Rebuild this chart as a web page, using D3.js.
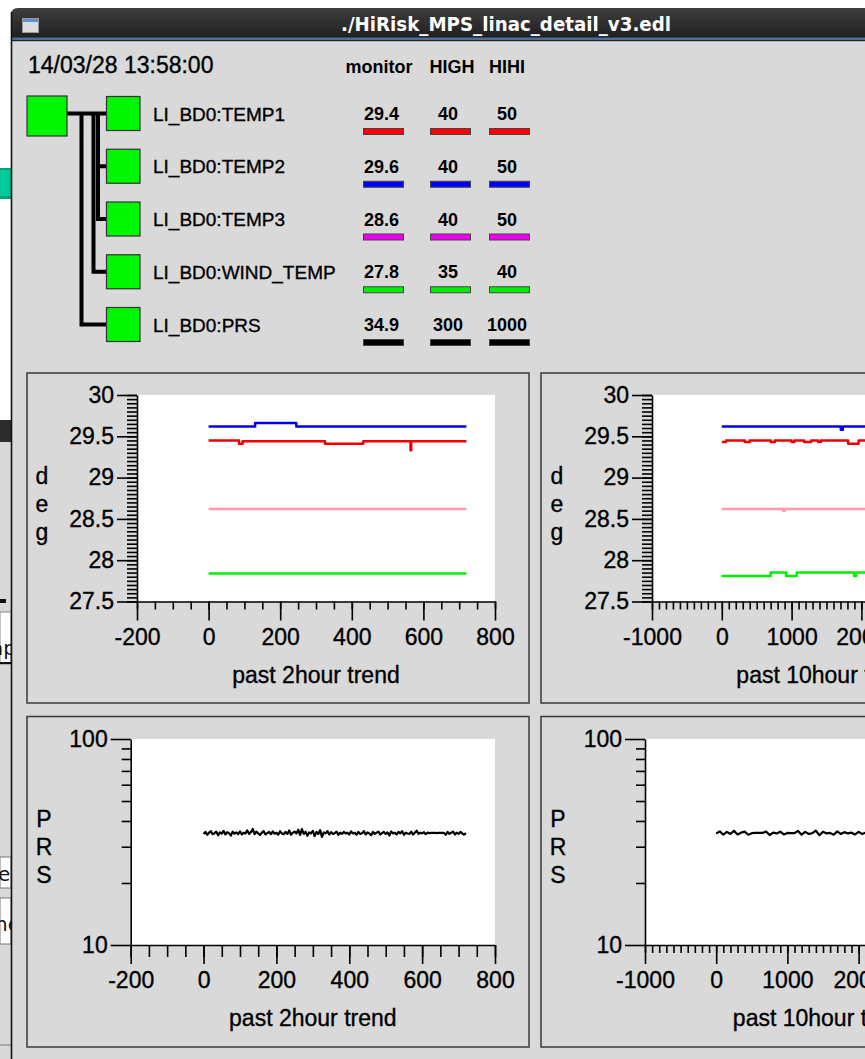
<!DOCTYPE html>
<html><head><meta charset="utf-8">
<script src="https://cdn.jsdelivr.net/npm/d3@7/dist/d3.min.js"></script>
<style>
html,body{margin:0;padding:0;background:#fff;overflow:hidden}
svg{display:block}
</style></head><body>
<svg id="chart" width="865" height="1059"></svg>
<script>
// ================= DATA =================
const windowTitle = "./HiRisk_MPS_linac_detail_v3.edl";
const timestamp = "14/03/28 13:58:00";
const columnHeaders = ["monitor", "HIGH", "HIHI"];
const channels = ["LI_BD0:TEMP1", "LI_BD0:TEMP2", "LI_BD0:TEMP3", "LI_BD0:WIND_TEMP", "LI_BD0:PRS"];
const monitorValues = ["29.4", "29.6", "28.6", "27.8", "34.9"];
const highLimits = ["40", "40", "40", "35", "300"];
const hihiLimits = ["50", "50", "50", "40", "1000"];
const channelColors = ["#ff0000", "#0000ff", "#ee00ee", "#00ee00", "#000000"];
const traceColors = ["#f00000", "#0000f0", "#ff9aaa", "#00f000"];
const unitLabels = ["deg", "PRS"];
const xTitles = ["past 2hour trend", "past 10hour trend"];

const tempTicks = [27.5, 28, 28.5, 29, 29.5, 30];
const prsTicks = [10, 100];
const prsMinorTicks = [20, 30, 40, 50, 60, 70, 80, 90];
const xTicks2h = [-200, 0, 200, 400, 600, 800];
const xTicks10h = [-1000, 0, 1000, 2000, 3000, 4000];

// temperature traces: [time, value] change points (step lines)
const temp1_2h = [[0,29.45],[85,29.41],[95,29.44],[325,29.41],[432,29.44],[564,29.33],[566,29.44],[720,29.44]];
const temp2_2h = [[0,29.62],[130,29.66],[245,29.62],[720,29.62]];
const temp3_2h = [[0,28.62],[720,28.62]];
const wind_2h  = [[0,27.84],[720,27.84]];

const temp1_10h = [[0,29.43],[60,29.45],[330,29.43],[400,29.45],[700,29.43],[760,29.45],[1000,29.43],[1040,29.45],[1180,29.43],[1280,29.45],[1380,29.43],[1420,29.45],[1810,29.41],[1960,29.45],[2100,29.44],[3600,29.44]];
const temp2_10h = [[0,29.62],[1705,29.58],[1735,29.62],[3600,29.62]];
const temp3_10h = [[0,28.62],[880,28.60],[900,28.62],[3600,28.62]];
const wind_10h  = [[0,27.81],[700,27.85],[920,27.81],[1073,27.85],[1895,27.81],[1925,27.85],[3600,27.85]];

// pressure samples (2h: every 5 units; 10h: every 50 units)
const prs2h = [
34.6,35.4,34.3,35.1,35.7,34.5,34.9,35.5,34.1,35.2,34.7,35.8,34.4,35.3,34.9,34.0,35.5,34.7,35.2,34.5,
35.6,34.4,35.1,34.8,36.0,34.6,35.3,36.6,34.5,35.5,34.8,34.2,35.1,35.7,34.4,34.9,35.4,34.5,35.6,34.7,
35.1,34.3,35.7,34.8,34.5,35.4,34.6,36.0,34.3,35.1,35.5,34.8,36.3,34.2,36.5,34.6,35.5,33.9,35.2,34.8,
35.8,33.8,35.4,34.6,36.1,33.5,35.2,34.8,35.7,34.4,35.3,34.6,34.9,35.5,34.3,35.1,34.6,35.4,34.8,35.1,
34.4,35.6,34.8,35.1,34.3,35.4,34.6,34.9,35.7,34.4,35.2,34.8,34.1,35.4,34.6,35.1,35.5,34.4,34.9,35.4,
34.6,35.2,34.0,35.6,34.8,35.1,34.4,35.4,34.8,35.7,34.3,35.1,34.8,34.6,35.5,34.4,35.1,35.9,34.6,35.1,
34.8,35.3,34.5,35.1,34.9,35.0,35.0,35.0,34.9,35.0,35.0,35.0,35.0,34.3,35.4,34.6,35.1,35.5,34.4,35.1,
34.6,35.4,34.8,34.3,35.0];
const prs10h = [
34.8,35.6,34.3,35.4,34.6,35.8,34.4,35.1,35.5,34.3,34.9,35.0,35.0,35.0,35.6,34.2,35.1,34.8,35.5,34.4,
35.0,34.9,34.9,35.8,34.3,35.4,34.6,34.9,35.9,34.1,35.5,34.8,35.0,34.3,35.6,34.6,35.3,34.8,35.1,34.4,
35.4,34.6,35.1,34.8,35.5,34.4,35.1,34.8,35.6,34.6,35.0,34.9,35.3,34.5,35.1,34.8,35.4,34.6,35.1,34.8,
35.3,34.6,35.1,34.8,35.4,34.5,35.1,34.8,35.3,34.6,35.0,34.9,35.0];

// ================= DRAWING =================
const svg = d3.select("#chart");
const FONT = "'Liberation Sans', Arial, Helvetica, sans-serif";
const BG = "#d9d9d9";
const ink = sel => sel.attr("stroke", "#000").attr("stroke-width", 0.35).attr("paint-order", "stroke");

svg.append("rect").attr("width", 865).attr("height", 1059).attr("fill", "#ffffff");

// ---- background window strip (left edge) ----
const defs = svg.append("defs");
defs.append("clipPath").attr("id", "stripClip").append("rect").attr("x", 0).attr("y", 0).attr("width", 11).attr("height", 1059);
const strip = svg.append("g").attr("clip-path", "url(#stripClip)");
strip.append("rect").attr("x", 0).attr("y", 168).attr("width", 11).attr("height", 31).attr("fill", "#00c99a");
strip.append("rect").attr("x", 0).attr("y", 168).attr("width", 11).attr("height", 2).attr("fill", "#00a27d");
strip.append("rect").attr("x", 0).attr("y", 196).attr("width", 11).attr("height", 3).attr("fill", "#00a27d");
strip.append("rect").attr("x", 0).attr("y", 420).attr("width", 11).attr("height", 22).attr("fill", "#2c2c2c");
strip.append("rect").attr("x", 0).attr("y", 442).attr("width", 11).attr("height", 617).attr("fill", "#d8d8d8");
strip.append("rect").attr("x", 0).attr("y", 599).attr("width", 6).attr("height", 4).attr("fill", "#111");
strip.append("rect").attr("x", 0).attr("y", 612).attr("width", 11).attr("height", 52).attr("fill", "#fff").attr("stroke", "#888");
strip.append("rect").attr("x", 0).attr("y", 662).attr("width", 11).attr("height", 2).attr("fill", "#111");
strip.append("text").attr("x", -9).attr("y", 655).text("ap").attr("font-family", "DejaVu Sans").attr("font-size", 20).attr("fill", "#111");
strip.append("rect").attr("x", 0).attr("y", 857).attr("width", 11).attr("height", 31).attr("fill", "#fff").attr("stroke", "#777");
strip.append("text").attr("x", -2).attr("y", 881).text("e").attr("font-family", "DejaVu Sans").attr("font-size", 20).attr("fill", "#111");
strip.append("rect").attr("x", 0).attr("y", 898).attr("width", 11).attr("height", 46).attr("fill", "#fff").attr("stroke", "#777");
strip.append("text").attr("x", -5).attr("y", 931).text("nc").attr("font-family", "DejaVu Sans").attr("font-size", 20).attr("fill", "#111");
strip.append("rect").attr("x", 0).attr("y", 1044).attr("width", 11).attr("height", 2).attr("fill", "#aaa");

// ---- main window frame ----
svg.append("rect").attr("x", 11).attr("y", 40).attr("width", 854).attr("height", 1019).attr("fill", BG);
const grad = defs.append("linearGradient").attr("id", "tb").attr("x1", 0).attr("y1", 0).attr("x2", 0).attr("y2", 1);
grad.append("stop").attr("offset", "0%").attr("stop-color", "#3e3e3e");
grad.append("stop").attr("offset", "100%").attr("stop-color", "#1d1d1d");
svg.append("path").attr("d", "M11,40 V15 Q11,8 18,8 H865 V40 Z").attr("fill", "url(#tb)");
svg.append("rect").attr("x", 11).attr("y", 37.5).attr("width", 854).attr("height", 2.5).attr("fill", "#4f6d96");
svg.append("rect").attr("x", 11).attr("y", 40).attr("width", 854).attr("height", 1.2).attr("fill", "#222");
svg.append("line").attr("x1", 11.5).attr("x2", 11.5).attr("y1", 12).attr("y2", 1059).attr("stroke", "#111").attr("stroke-width", 1.6);
// window icon
svg.append("rect").attr("x", 22.5).attr("y", 18.5).attr("width", 16).attr("height", 14).attr("fill", "#dcdcdc").attr("stroke", "#9a9a9a");
svg.append("rect").attr("x", 23).attr("y", 19).attr("width", 15).attr("height", 3).attr("fill", "#5b8fd6");
svg.append("text").attr("x", 506).attr("y", 30.5).attr("text-anchor", "middle")
  .attr("font-family", "'DejaVu Sans', sans-serif").attr("font-weight", "bold").attr("font-size", 20)
  .attr("textLength", 330).attr("lengthAdjust", "spacingAndGlyphs")
  .attr("fill", "#ffffff").text(windowTitle);

// ---- header / tree ----
svg.append("text").attr("x", 28).attr("y", 73).attr("font-family", FONT).attr("font-size", 23).attr("fill", "#000").text(timestamp).call(ink);

const colX = d3.scaleOrdinal().domain(columnHeaders).range([381.5, 448, 507]);
const headerX = d3.scaleOrdinal().domain(columnHeaders).range([379, 452, 507]);
svg.append("g").selectAll("text").data(columnHeaders).join("text")
  .attr("x", d => headerX(d)).attr("y", 73).attr("text-anchor", "middle")
  .attr("font-family", FONT).attr("font-weight", "bold").attr("font-size", 18).attr("fill", "#000").text(d => d);

const rowY = d3.scalePoint().domain(channels).range([113.5, 324.5]);

// tree connector lines
const tree = svg.append("g").attr("fill", "none").attr("stroke", "#000").attr("stroke-width", 4).attr("stroke-linejoin", "miter");
const r = c => rowY(channels[c]);
tree.append("path").attr("d", `M67,${r(0)} H107`);
tree.append("path").attr("d", `M81.5,${r(0)} V${r(4)} H107`);
tree.append("path").attr("d", `M93.5,${r(0)} V${r(3)} H107`);
tree.append("path").attr("d", `M98,${r(0)} V${r(2)} H107 M98,${r(1)} H107`);

svg.append("rect").attr("x", 27).attr("y", 96).attr("width", 40).attr("height", 40)
  .attr("fill", "#00f500").attr("stroke", "#333").attr("stroke-width", 1.2);
svg.append("g").selectAll("rect").data(channels).join("rect")
  .attr("x", 106.5).attr("y", d => rowY(d) - 17).attr("width", 33.5).attr("height", 34)
  .attr("fill", "#00f500").attr("stroke", "#333").attr("stroke-width", 1.2);

svg.append("g").selectAll("text").data(channels).join("text")
  .attr("x", 153).attr("y", d => rowY(d) + 7).attr("font-family", FONT).attr("font-size", 19)
  .attr("fill", "#000").text(d => d).call(ink);

const cols = [monitorValues, highLimits, hihiLimits];
columnHeaders.forEach((h, ci) => {
  const g = svg.append("g");
  g.selectAll("text").data(channels).join("text")
    .attr("x", colX(h)).attr("y", d => rowY(d) + 6.5).attr("text-anchor", "middle")
    .attr("font-family", FONT).attr("font-weight", "bold").attr("font-size", 18).attr("fill", "#000")
    .text((d, i) => cols[ci][i]);
  g.selectAll("rect").data(channels).join("rect")
    .attr("x", colX(h) - 19.5 + (ci === 0 ? 1.5 : 2)).attr("y", d => rowY(d) + 15).attr("width", 40).attr("height", 6)
    .attr("fill", (d, i) => channelColors[i]).attr("stroke", "#444").attr("stroke-width", 1);
});

// ---- trend panels ----
function panel(cfg) {
  const g = svg.append("g");
  const [bx0, by0, bx1, by1] = cfg.box;
  g.append("rect").attr("x", bx0).attr("y", by0).attr("width", bx1 - bx0).attr("height", by1 - by0)
    .attr("fill", BG).attr("stroke", "#3a3a3a").attr("stroke-width", 1.5);
  const [px0, py0, px1, py1] = cfg.plot;
  g.append("rect").attr("x", px0).attr("y", py0).attr("width", px1 - px0).attr("height", py1 - py0).attr("fill", "#fff");

  const x = d3.scaleLinear().domain(cfg.xDomain).range([px0, px1]);
  const y = (cfg.log ? d3.scaleLog() : d3.scaleLinear()).domain(cfg.yDomain).range([py1, py0]);

  const clipId = "clip" + cfg.id;
  defs.append("clipPath").attr("id", clipId).append("rect").attr("x", px0).attr("y", py0 - 3).attr("width", px1 - px0).attr("height", py1 - py0 + 3);
  const lines = g.append("g").attr("clip-path", `url(#${clipId})`).attr("fill", "none");
  cfg.series.forEach(s => {
    const line = d3.line().x(d => x(d[0])).y(d => y(d[1])).curve(s.step ? d3.curveStepAfter : d3.curveLinear);
    lines.append("path").attr("d", line(s.data)).attr("stroke", s.color).attr("stroke-width", s.width)
      .attr("stroke-linejoin", "round");
  });

  const style = (sel) => {
    sel.selectAll("line").attr("stroke", "#000").attr("stroke-width", 1.6);
    sel.selectAll("path.domain").attr("stroke", "#000").attr("stroke-width", 1.6);
    sel.selectAll("text").attr("font-family", FONT).attr("font-size", 23).attr("fill", "#000").call(ink);
    sel.attr("font-family", null).attr("font-size", null);
  };
  // minor ticks
  g.append("g").attr("transform", `translate(0,${py1})`)
    .call(d3.axisBottom(x).tickValues(cfg.xMinor).tickSize(cfg.xMinorLen).tickSizeOuter(0).tickFormat(""))
    .call(style).call(s => s.select(".domain").remove());
  g.append("g").attr("transform", `translate(${px0},0)`)
    .call(d3.axisLeft(y).tickValues(cfg.yMinor).tickSize(cfg.yMinorLen).tickSizeOuter(0).tickFormat(""))
    .call(style).call(s => s.select(".domain").remove());
  // major ticks + labels
  g.append("g").attr("transform", `translate(0,${py1})`)
    .call(d3.axisBottom(x).tickValues(cfg.xTicks).tickSize(19).tickPadding(8).tickSizeOuter(0).tickFormat(d => String(d)))
    .call(style);
  g.append("g").attr("transform", `translate(${px0},0)`)
    .call(d3.axisLeft(y).tickValues(cfg.yTicks).tickSize(20).tickPadding(3).tickSizeOuter(0).tickFormat(d => String(d)))
    .call(style);

  // vertical unit label
  g.append("g").selectAll("text").data(cfg.unit.split("")).join("text")
    .attr("x", cfg.unitX).attr("y", (d, i) => cfg.unitY + i * 28).attr("text-anchor", "middle")
    .attr("font-family", FONT).attr("font-size", 23).attr("fill", "#000").text(d => d).call(ink);
  // x title
  g.append("text").attr("x", (px0 + px1) / 2).attr("y", cfg.titleY).attr("text-anchor", "middle")
    .attr("font-family", FONT).attr("font-size", 23).attr("fill", "#000").text(cfg.title).call(ink);
}

const tempMinor = d3.range(0, 51).map(i => 27.5 + i * 0.05);
const tempSeries2h = [
  { data: temp3_2h, color: traceColors[2], width: 2.5, step: true },
  { data: wind_2h, color: traceColors[3], width: 2.5, step: true },
  { data: temp1_2h, color: traceColors[0], width: 2.5, step: true },
  { data: temp2_2h, color: traceColors[1], width: 2.5, step: true }
];
const tempSeries10h = [
  { data: temp3_10h, color: traceColors[2], width: 2.5, step: true },
  { data: wind_10h, color: traceColors[3], width: 2.5, step: true },
  { data: temp1_10h, color: traceColors[0], width: 2.5, step: true },
  { data: temp2_10h, color: traceColors[1], width: 2.5, step: true }
];

panel({ id: "tl", box: [27, 373, 529, 703], plot: [137, 395, 495, 601.5],
  xDomain: [-200, 800], yDomain: [27.5, 30], log: false,
  xTicks: xTicks2h, xMinor: d3.range(-200, 801, 50), xMinorLen: 8,
  yTicks: tempTicks, yMinor: tempMinor, yMinorLen: 10,
  series: tempSeries2h, unit: unitLabels[0], unitX: 42, unitY: 483.5, title: xTitles[0], titleY: 683 });

panel({ id: "tr", box: [541, 373, 1035, 703], plot: [652, 395, 1001, 601.5],
  xDomain: [-1000, 4000], yDomain: [27.5, 30], log: false,
  xTicks: xTicks10h, xMinor: d3.range(-1000, 4001, 100), xMinorLen: 8,
  yTicks: tempTicks, yMinor: tempMinor, yMinorLen: 10,
  series: tempSeries10h, unit: unitLabels[0], unitX: 557, unitY: 483.5, title: xTitles[1], titleY: 683 });

panel({ id: "bl", box: [27, 716.5, 529, 1047], plot: [130.7, 739, 495, 945],
  xDomain: [-200, 800], yDomain: [10, 100], log: true,
  xTicks: xTicks2h, xMinor: d3.range(-200, 801, 50), xMinorLen: 12,
  yTicks: prsTicks, yMinor: prsMinorTicks, yMinorLen: 9,
  series: [{ data: prs2h.map((v, i) => [i * 5, v]), color: "#000", width: 2.2, step: false }],
  unit: unitLabels[1], unitX: 44, unitY: 826.5, title: xTitles[0], titleY: 1026 });

panel({ id: "br", box: [541, 716.5, 1035, 1047], plot: [645, 739, 1001, 945],
  xDomain: [-1000, 4000], yDomain: [10, 100], log: true,
  xTicks: xTicks10h, xMinor: d3.range(-1000, 4001, 100), xMinorLen: 8,
  yTicks: prsTicks, yMinor: prsMinorTicks, yMinorLen: 9,
  series: [{ data: prs10h.map((v, i) => [i * 50, v]), color: "#000", width: 2.2, step: false }],
  unit: unitLabels[1], unitX: 558, unitY: 826.5, title: xTitles[1], titleY: 1026 });
</script>
</body></html>
